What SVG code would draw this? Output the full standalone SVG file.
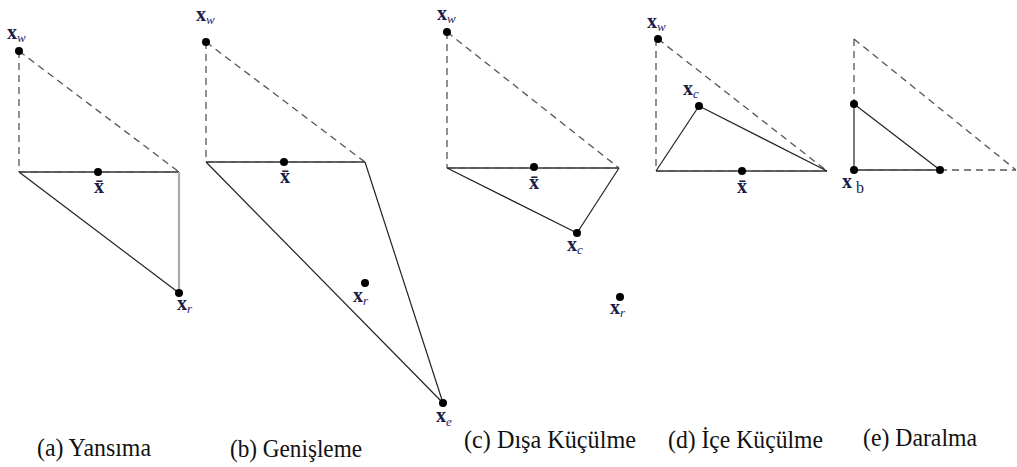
<svg xmlns="http://www.w3.org/2000/svg" width="1017" height="467" viewBox="0 0 1017 467">
<style>
.dash{stroke:#555;stroke-width:1.3;stroke-dasharray:7 5;fill:none}
.base{stroke:#333;stroke-width:1.6;fill:none}
.solid{stroke:#222;stroke-width:1.2;fill:none}
.gray{stroke:#aaa;stroke-width:2.2;fill:none}
.dot{fill:#000}
text{font-family:'Liberation Serif','Times New Roman',serif}
.x{font-weight:bold;font-size:20px;fill:#1c1c44}
.sub{font-style:italic;font-weight:normal;font-size:13px;fill:#2a2a66}
.subn{font-weight:normal;font-size:16px;fill:#1c1c44}
.cap{font-size:26px;fill:#111}
</style>
<rect width="1017" height="467" fill="#fff"/>
<g id="connectors">
  <line class="dash" x1="19" y1="51" x2="19" y2="172"/>
  <line class="dash" x1="19" y1="51" x2="179" y2="172"/>
  <line class="base" x1="19" y1="172" x2="179" y2="172"/>
  <line class="dash" x1="19" y1="172" x2="179" y2="172"/>
  <line class="solid" x1="19" y1="172" x2="179" y2="293"/>
  <line class="gray" x1="179" y1="172" x2="179" y2="293"/>
  <line class="dash" x1="206" y1="42" x2="206" y2="162"/>
  <line class="dash" x1="206" y1="42" x2="365" y2="162"/>
  <line class="base" x1="206" y1="162" x2="365" y2="162"/>
  <line class="dash" x1="206" y1="162" x2="365" y2="162"/>
  <line class="solid" x1="206" y1="162" x2="443" y2="403"/>
  <line class="solid" x1="365" y1="162" x2="443" y2="403"/>
  <line class="dash" x1="447" y1="32" x2="447" y2="168"/>
  <line class="dash" x1="447" y1="32" x2="619" y2="168"/>
  <line class="base" x1="447" y1="168" x2="619" y2="168"/>
  <line class="dash" x1="447" y1="168" x2="619" y2="168"/>
  <line class="solid" x1="447" y1="168" x2="577" y2="233"/>
  <line class="solid" x1="619" y1="168" x2="577" y2="233"/>
  <line class="dash" x1="656" y1="39" x2="656" y2="171"/>
  <line class="dash" x1="658" y1="39" x2="827" y2="171"/>
  <line class="base" x1="656" y1="171" x2="827" y2="171"/>
  <line class="dash" x1="656" y1="171" x2="827" y2="171"/>
  <line class="solid" x1="656" y1="171" x2="699" y2="106"/>
  <line class="solid" x1="699" y1="106" x2="827" y2="171"/>
  <line class="dash" x1="854" y1="39" x2="854" y2="104"/>
  <line class="dash" x1="854" y1="39" x2="1016" y2="170"/>
  <line class="dash" x1="940" y1="170" x2="1016" y2="170"/>
  <line class="solid" x1="854" y1="104" x2="854" y2="170"/>
  <line class="base" x1="854" y1="170" x2="940" y2="170"/>
  <line class="dash" x1="854" y1="170" x2="940" y2="170"/>
  <line class="solid" x1="854" y1="104" x2="940" y2="170"/>
</g>
<g id="panel-a">
  <circle class="dot" cx="19" cy="51" r="4"/>
  <text class="x" x="7" y="39">x<tspan class="sub" dy="3">w</tspan></text>
  <circle class="dot" cx="98" cy="172" r="4"/>
  <text class="x" x="99" y="193" text-anchor="middle">x̄</text>
  <circle class="dot" cx="179" cy="293" r="4"/>
  <text class="x" x="177" y="310">x<tspan class="sub" dy="3">r</tspan></text>
  <text class="cap" x="37" y="456" textLength="114" lengthAdjust="spacingAndGlyphs">(a) Yansıma</text>
</g>
<g id="panel-b">
  <circle class="dot" cx="206" cy="42" r="4"/>
  <text class="x" x="196" y="21">x<tspan class="sub" dy="3">w</tspan></text>
  <circle class="dot" cx="284" cy="162" r="4"/>
  <text class="x" x="285" y="183" text-anchor="middle">x̄</text>
  <circle class="dot" cx="365" cy="283" r="4"/>
  <text class="x" x="353" y="302">x<tspan class="sub" dy="3">r</tspan></text>
  <circle class="dot" cx="443" cy="403" r="4"/>
  <text class="x" x="436" y="422">x<tspan class="sub" dy="4">e</tspan></text>
  <text class="cap" x="230" y="457" textLength="132" lengthAdjust="spacingAndGlyphs">(b) Genişleme</text>
</g>
<g id="panel-c">
  <circle class="dot" cx="447" cy="32" r="4"/>
  <text class="x" x="437" y="20">x<tspan class="sub" dy="3">w</tspan></text>
  <circle class="dot" cx="534" cy="167" r="4"/>
  <text class="x" x="534" y="189" text-anchor="middle">x̄</text>
  <circle class="dot" cx="577" cy="233" r="4"/>
  <text class="x" x="567" y="251">x<tspan class="sub" dy="3">c</tspan></text>
  <circle class="dot" cx="620" cy="297" r="4"/>
  <text class="x" x="610" y="314">x<tspan class="sub" dy="3">r</tspan></text>
  <text class="cap" x="464" y="448" textLength="172" lengthAdjust="spacingAndGlyphs">(c) Dışa Küçülme</text>
</g>
<g id="panel-d">
  <circle class="dot" cx="658" cy="39" r="4"/>
  <text class="x" x="647" y="28">x<tspan class="sub" dy="3">w</tspan></text>
  <circle class="dot" cx="699" cy="106" r="4"/>
  <text class="x" x="683" y="95">x<tspan class="sub" dy="3">c</tspan></text>
  <circle class="dot" cx="742" cy="171" r="4"/>
  <text class="x" x="742" y="193" text-anchor="middle">x̄</text>
  <text class="cap" x="668" y="448" textLength="155" lengthAdjust="spacingAndGlyphs">(d) İçe Küçülme</text>
</g>
<g id="panel-e">
  <circle class="dot" cx="854" cy="104" r="4"/>
  <circle class="dot" cx="854" cy="170" r="4"/>
  <circle class="dot" cx="940" cy="170" r="4"/>
  <text class="x" x="842" y="188">x<tspan class="subn" dx="4" dy="5">b</tspan></text>
  <text class="cap" x="863" y="446" textLength="114" lengthAdjust="spacingAndGlyphs">(e) Daralma</text>
</g>
</svg>
